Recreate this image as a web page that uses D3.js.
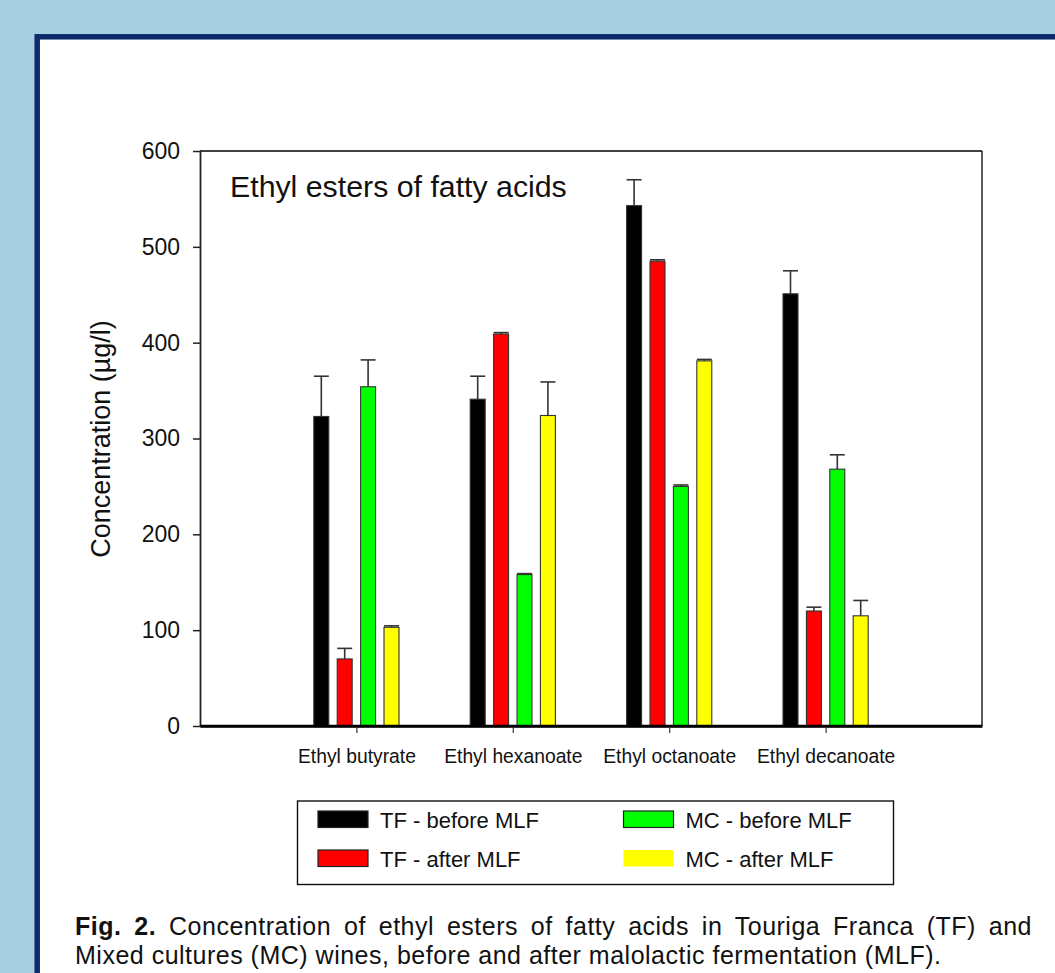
<!DOCTYPE html>
<html>
<head>
<meta charset="utf-8">
<script src="https://cdn.jsdelivr.net/npm/d3@7"></script>
<style>
  body { margin: 0; background: #a8cfdf; }
  svg { display: block; font-family: "Liberation Sans", Arial, sans-serif; }
</style>
</head>
<body>
<div id="chart"></div>
<script>
// data
var categories = ["Ethyl butyrate", "Ethyl hexanoate", "Ethyl octanoate", "Ethyl decanoate"];
var seriesNames = ["TF - before MLF", "TF - after MLF", "MC - before MLF", "MC - after MLF"];
var seriesColors = ["#000000", "#ff0000", "#00ff00", "#ffff00"];

var tfBefore = [323, 341, 543, 451];
var tfBeforeErr = [42, 24, 27, 24];
var tfAfter = [70, 409, 485, 120];
var tfAfterErr = [11, 1.5, 1.5, 4];
var mcBefore = [354, 158, 250, 268];
var mcBeforeErr = [28, 1, 1.5, 15];
var mcAfter = [103, 324, 381, 115];
var mcAfterErr = [1.5, 35, 1.5, 16];

var yTicks = [0, 100, 200, 300, 400, 500, 600];

var svgWidth = 1055;
var svgHeight = 973;

var margin = { top: 151, right: 73, bottom: 247, left: 200 };
var width = svgWidth - margin.left - margin.right;
var height = svgHeight - margin.top - margin.bottom;

var svg = d3.select("#chart")
  .append("svg")
  .attr("width", svgWidth)
  .attr("height", svgHeight);

// background panel with navy border
svg.append("rect")
  .attr("width", svgWidth)
  .attr("height", svgHeight)
  .attr("fill", "#a8cfdf");

svg.append("rect")
  .attr("x", 37.2)
  .attr("y", 36.8)
  .attr("width", 1100)
  .attr("height", 1000)
  .attr("fill", "#ffffff")
  .attr("stroke", "#0c2a6c")
  .attr("stroke-width", 5.5);

var chartGroup = svg.append("g")
  .attr("transform", `translate(${margin.left}, ${margin.top})`);

// build a table from the arrays
var values = [tfBefore, tfAfter, mcBefore, mcAfter];
var errors = [tfBeforeErr, tfAfterErr, mcBeforeErr, mcAfterErr];
var table = [];
categories.forEach(function(cat, i) {
  seriesNames.forEach(function(s, j) {
    table.push({ cat: cat, series: s, value: values[j][i], err: errors[j][i], color: seriesColors[j] });
  });
});

// scales
var xScale = d3.scalePoint()
  .domain(categories)
  .range([0, width])
  .padding(1);

var xInner = d3.scaleBand()
  .domain(seriesNames)
  .range([-46.8, 46.8])
  .paddingInner(0.36)
  .paddingOuter(0.18);

var yScale = d3.scaleLinear()
  .domain([0, 600])
  .range([height, 0]);

// axes
var leftAxis = d3.axisLeft(yScale)
  .tickValues(yTicks)
  .tickSize(7)
  .tickSizeOuter(0)
  .tickPadding(13);

var yAxis = chartGroup.append("g").call(leftAxis);
yAxis.select(".domain").attr("stroke", "#222").attr("stroke-width", 1.8);
yAxis.selectAll(".tick line").attr("stroke", "#222").attr("stroke-width", 1.5);
yAxis.selectAll(".tick text")
  .attr("font-size", 23)
  .attr("font-family", "Liberation Sans, Arial, sans-serif")
  .attr("fill", "#111");

var bottomAxis = d3.axisBottom(xScale)
  .tickSize(7)
  .tickSizeOuter(0)
  .tickPadding(16);

var xAxis = chartGroup.append("g")
  .attr("transform", `translate(0, ${height})`)
  .call(bottomAxis);
xAxis.select(".domain").attr("stroke", "#000").attr("stroke-width", 2.4);
xAxis.selectAll(".tick line").attr("stroke", "#444").attr("stroke-width", 1.3);
xAxis.selectAll(".tick text")
  .attr("font-size", 19.3)
  .attr("font-family", "Liberation Sans, Arial, sans-serif")
  .attr("fill", "#111");

// top and right frame
chartGroup.append("line")
  .attr("x1", 0).attr("x2", width)
  .attr("y1", 0).attr("y2", 0)
  .attr("stroke", "#000").attr("stroke-width", 1.3);
chartGroup.append("line")
  .attr("x1", width).attr("x2", width)
  .attr("y1", 0).attr("y2", height)
  .attr("stroke", "#000").attr("stroke-width", 1.3);

// bars
var bars = chartGroup.selectAll(".bar")
  .data(table)
  .enter()
  .append("g")
  .attr("class", "bar")
  .attr("transform", d => `translate(${xScale(d.cat) + xInner(d.series)}, 0)`);

var bw = xInner.bandwidth();

// error bars (upper only)
bars.append("line")
  .attr("x1", bw / 2).attr("x2", bw / 2)
  .attr("y1", d => yScale(d.value))
  .attr("y2", d => yScale(d.value + d.err))
  .attr("stroke", "#333")
  .attr("stroke-width", 1.6);

bars.append("line")
  .attr("x1", 0).attr("x2", bw)
  .attr("y1", d => yScale(d.value + d.err))
  .attr("y2", d => yScale(d.value + d.err))
  .attr("stroke", "#333")
  .attr("stroke-width", 1.6);

bars.append("rect")
  .attr("x", 0)
  .attr("width", bw)
  .attr("y", d => yScale(d.value))
  .attr("height", d => height - yScale(d.value))
  .attr("fill", d => d.color)
  .attr("stroke", "#333")
  .attr("stroke-width", 1.1);

// redraw x axis line on top of the bar bottoms
chartGroup.append("line")
  .attr("x1", 0).attr("x2", width)
  .attr("y1", height).attr("y2", height)
  .attr("stroke", "#000").attr("stroke-width", 2.4);

// in-plot title
chartGroup.append("text")
  .attr("x", 30)
  .attr("y", 46)
  .attr("font-size", 30.3)
  .attr("fill", "#111")
  .text("Ethyl esters of fatty acids");

// y axis label
svg.append("text")
  .attr("transform", "rotate(-90)")
  .attr("x", -439)
  .attr("y", 110)
  .attr("text-anchor", "middle")
  .attr("font-size", 27)
  .attr("fill", "#111")
  .text("Concentration (µg/l)");

// legend
var legend = svg.append("g");
legend.append("rect")
  .attr("x", 297.5)
  .attr("y", 801)
  .attr("width", 596)
  .attr("height", 83.5)
  .attr("fill", "#fff")
  .attr("stroke", "#111")
  .attr("stroke-width", 1.4);

var legendCols = [318, 623.5];
var legendRows = [811, 850];
seriesNames.forEach(function(name, j) {
  var col = legendCols[Math.floor(j / 2)];
  var row = legendRows[j % 2];
  legend.append("rect")
    .attr("x", col)
    .attr("y", row)
    .attr("width", 50)
    .attr("height", 16.5)
    .attr("fill", seriesColors[j])
    .attr("stroke", j === 3 ? "none" : "#222")
    .attr("stroke-width", 1.2);
  legend.append("text")
    .attr("x", col + 62)
    .attr("y", row + 16.5)
    .attr("font-size", 22)
    .attr("fill", "#111")
    .text(name);
});

// caption, first line justified
var capLeft = 75, capRight = 1032;
var capLine1 = "Fig. 2. Concentration of ethyl esters of fatty acids in Touriga Franca (TF) and";
var line1 = svg.append("text")
  .attr("x", capLeft)
  .attr("y", 935)
  .attr("font-size", 25)
  .attr("letter-spacing", 0.5)
  .attr("fill", "#111");
line1.append("tspan").attr("font-weight", "bold").text("Fig. 2.");
line1.append("tspan").text(capLine1.slice(7));

var w = line1.node().getComputedTextLength();
var gaps = capLine1.split(" ").length - 1;
line1.attr("word-spacing", Math.max(0, (capRight - capLeft - w) / gaps));

svg.append("text")
  .attr("x", capLeft)
  .attr("y", 964)
  .attr("font-size", 25)
  .attr("letter-spacing", 0.5)
  .attr("fill", "#111")
  .text("Mixed cultures (MC) wines, before and after malolactic fermentation (MLF).");
</script>
</body>
</html>
